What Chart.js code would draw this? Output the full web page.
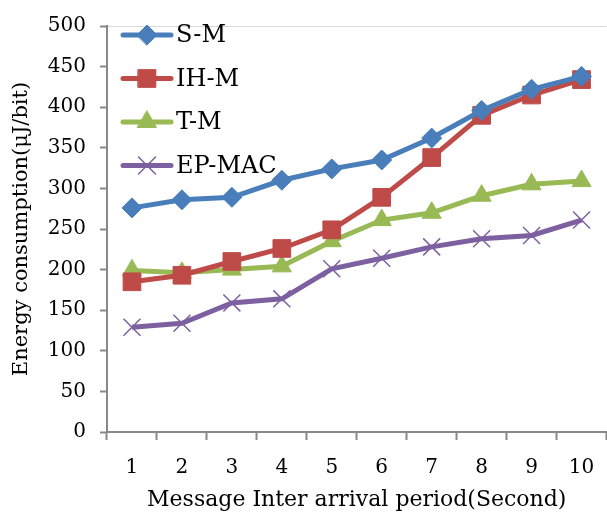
<!DOCTYPE html>
<html>
<head>
<meta charset="utf-8">
<script src="https://cdn.jsdelivr.net/npm/chart.js@4"></script>
<style>
  html, body { margin: 0; padding: 0; background: #fff; overflow: hidden; }
  #wrap { width: 620px; height: 515px; }
</style>
</head>
<body>
<div id="wrap"><canvas id="myChart" width="620" height="515"></canvas></div>
<script>
const labels = ['1', '2', '3', '4', '5', '6', '7', '8', '9', '10'];

var smData    = [276, 286, 289, 310, 324, 335, 362, 396, 422, 438];
var ihmData   = [185, 193, 210, 226, 249, 289, 338, 390, 415, 434];
var tmData    = [199, 196, 200, 204, 235, 261, 270, 291, 305, 309];
var epmacData = [129, 134, 159, 164, 201, 214, 228, 238, 242, 261];

var legends = ['S-M', 'IH-M', 'T-M', 'EP-MAC'];
var yTicks = [0, 50, 100, 150, 200, 250, 300, 350, 400, 450, 500];

const serif = "'DejaVu Serif', serif";

function series(label, values, color, style, radius, bw) {
    return {
        label: label,
        data: values,
        borderColor: color,
        backgroundColor: color,
        pointBackgroundColor: color,
        pointBorderColor: color,
        pointStyle: style,
        pointRadius: radius,
        pointBorderWidth: bw,
        borderWidth: 5,
        tension: 0,
        fill: false
    };
}

const data = {
    labels: labels,
    datasets: [
        series(legends[0], smData, '#4A7EBB', 'rectRot', 10, 1),
        series(legends[1], ihmData, '#BE4B48', 'rect', 12.5, 1),
        series(legends[2], tmData, '#98B954', 'triangle', 11, 1),
        series(legends[3], epmacData, '#7D60A0', 'crossRot', 12, 1.5)
    ]
};

// legend box sitting inside the plot, top-left
const innerLegend = {
    id: 'innerLegend',
    afterDraw(chart) {
        const ctx = chart.ctx;
        ctx.save();
        chart.data.datasets.forEach((ds, i) => {
            const y = 35 + i * 43.5;
            ctx.strokeStyle = ds.borderColor;
            ctx.lineWidth = 5;
            ctx.lineCap = 'round';
            ctx.beginPath();
            ctx.moveTo(123, y);
            ctx.lineTo(171, y);
            ctx.stroke();
            ctx.fillStyle = ds.pointBackgroundColor;
            ctx.strokeStyle = ds.pointBorderColor;
            ctx.lineWidth = ds.pointBorderWidth;
            Chart.helpers.drawPoint(ctx, {
                pointStyle: ds.pointStyle,
                radius: ds.pointRadius,
                rotation: 0,
                borderWidth: ds.pointBorderWidth
            }, 147, y);
            ctx.fillStyle = '#000';
            ctx.font = '24px ' + serif;
            ctx.textAlign = 'left';
            ctx.textBaseline = 'middle';
            ctx.fillText(ds.label, 176, y + 1);
        });
        ctx.restore();
    }
};

const config = {
    type: 'line',
    data: data,
    options: {
        responsive: false,
        animation: false,
        layout: { padding: { top: 17, right: 4, left: 0, bottom: 0 } },
        plugins: {
            legend: { display: false },
            tooltip: { enabled: false }
        },
        scales: {
            x: {
                offset: true,
                grid: {
                    offset: true,
                    drawOnChartArea: false,
                    tickColor: '#888',
                    tickLength: 8,
                    tickWidth: 2
                },
                border: { color: '#888', width: 2 },
                ticks: { color: '#000', font: { family: serif, size: 20 }, padding: 16, maxRotation: 0 },
                title: {
                    display: true,
                    text: 'Message Inter arrival period(Second)',
                    color: '#000',
                    font: { family: serif, size: 22 },
                    padding: { top: 0, bottom: 2 }
                },
                afterFit(scale) { scale.height = 83; }
            },
            y: {
                min: 0,
                max: 500,
                afterBuildTicks(scale) { scale.ticks = yTicks.map(v => ({ value: v })); },
                grid: {
                    drawOnChartArea: true,
                    color: (c) => (c.tick && c.tick.value === 500) ? '#D9D9D9' : 'rgba(0,0,0,0)',
                    tickColor: '#888',
                    tickLength: 7,
                    tickWidth: 2
                },
                border: { color: '#888', width: 2 },
                ticks: { color: '#000', font: { family: serif, size: 20 }, padding: 14 },
                title: {
                    display: true,
                    text: 'Energy consumption(μJ/bit)',
                    color: '#000',
                    font: { family: serif, size: 21 },
                    padding: { top: 9, bottom: 0 }
                },
                afterFit(scale) { scale.width = 107; }
            }
        }
    },
    plugins: [innerLegend]
};

var myChart = new Chart(document.getElementById('myChart'), config);
</script>
</body>
</html>
